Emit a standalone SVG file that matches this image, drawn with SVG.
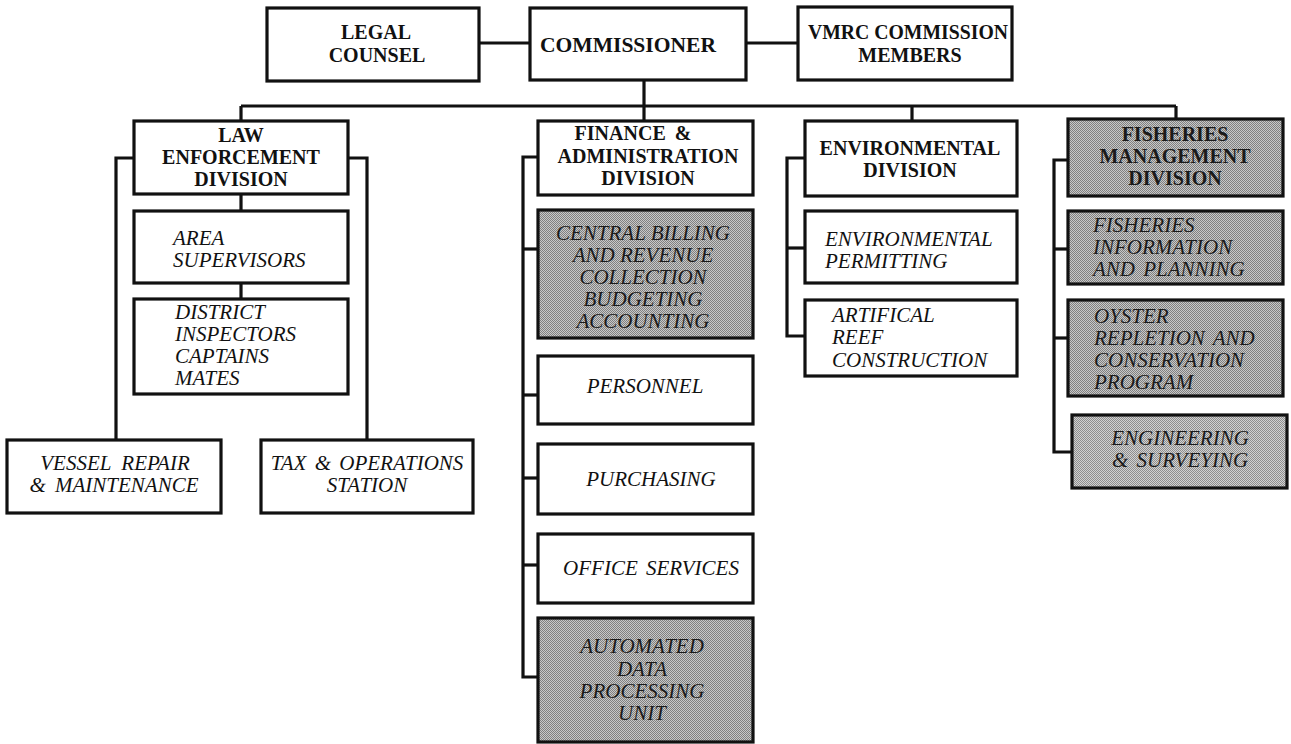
<svg xmlns="http://www.w3.org/2000/svg" width="1291" height="744" viewBox="0 0 1291 744">
  <defs>
    <!-- fine dither used for the shaded units -->
    <pattern id="dither" width="2" height="2" patternUnits="userSpaceOnUse">
      <rect width="2" height="2" fill="#c8c8c8"/>
      <rect x="0" y="0" width="1" height="1" fill="#808080"/>
      <rect x="1" y="1" width="1" height="1" fill="#808080"/>
    </pattern>
    <pattern id="ditherLight" width="2" height="2" patternUnits="userSpaceOnUse">
      <rect width="2" height="2" fill="#d2d2d2"/>
      <rect x="0" y="0" width="1" height="1" fill="#8e8e8e"/>
      <rect x="1" y="1" width="1" height="1" fill="#8e8e8e"/>
    </pattern>
  </defs>
  <style>
    .box { fill: #ffffff; stroke: #111111; stroke-width: 3.2; }
    .shade { fill: url(#dither); stroke: #111111; stroke-width: 3.2; }
    .shadeL { fill: url(#ditherLight); stroke: #111111; stroke-width: 3.2; }
    .link { fill: none; stroke: #111111; stroke-width: 3.2; stroke-linejoin: miter; }
    .head { font-family: "Liberation Serif", "Times New Roman", serif; font-weight: bold; font-size: 20px; fill: #111111; text-anchor: middle; }
    .unit { font-family: "Liberation Serif", "Times New Roman", serif; font-style: italic; font-size: 21px; fill: #111111; }
    .mid { text-anchor: middle; }
    .dark { fill: #1a1a1a; }
  </style>
  <rect width="1291" height="744" fill="#ffffff"/>

  <!-- connectors -->
  <g id="connectors">
    <line class="link" x1="479" y1="43" x2="530" y2="43"/>
    <line class="link" x1="746" y1="43" x2="798" y2="43"/>
    <line class="link" x1="644" y1="80" x2="644" y2="121"/>
    <line class="link" x1="241" y1="106" x2="1176" y2="106"/>
    <line class="link" x1="241" y1="106" x2="241" y2="121"/>
    <line class="link" x1="912" y1="106" x2="912" y2="121"/>
    <line class="link" x1="1176" y1="106" x2="1176" y2="119"/>
    <!-- law enforcement -->
    <line class="link" x1="241" y1="194" x2="241" y2="211"/>
    <line class="link" x1="241" y1="283" x2="241" y2="299"/>
    <path class="link" d="M134,158 H116 V440"/>
    <path class="link" d="M348,158 H367 V440"/>
    <!-- finance & administration -->
    <path class="link" d="M538,157 H523 V677 H538"/>
    <path class="link" d="M523,249 H538"/>
    <path class="link" d="M523,395 H538"/>
    <path class="link" d="M523,478 H538"/>
    <path class="link" d="M523,565 H538"/>
    <!-- environmental -->
    <path class="link" d="M805,158 H787 V336 H805"/>
    <path class="link" d="M787,248 H805"/>
    <!-- fisheries management -->
    <path class="link" d="M1068,160 H1054 V452 H1072"/>
    <path class="link" d="M1054,249 H1068"/>
    <path class="link" d="M1054,338 H1068"/>
  </g>

  <!-- top row -->
  <g id="legal-counsel">
    <rect class="box" x="267" y="8" width="212" height="73"/>
    <text class="head" x="376" y="39">LEGAL</text>
    <text class="head" x="377" y="62">COUNSEL</text>
  </g>
  <g id="commissioner">
    <rect class="box" x="530" y="8" width="216" height="72"/>
    <text class="head" x="628" y="52" textLength="176" lengthAdjust="spacingAndGlyphs">COMMISSIONER</text>
  </g>
  <g id="vmrc-commission-members">
    <rect class="box" x="798" y="7" width="214" height="73"/>
    <text class="head" x="908" y="39" textLength="200" lengthAdjust="spacingAndGlyphs">VMRC COMMISSION</text>
    <text class="head" x="910" y="62">MEMBERS</text>
  </g>

  <!-- law enforcement division -->
  <g id="law-enforcement">
    <rect class="box" x="134" y="121" width="214" height="73"/>
    <text class="head" x="241" y="142">LAW</text>
    <text class="head" x="241" y="164">ENFORCEMENT</text>
    <text class="head" x="241" y="186">DIVISION</text>
  </g>
  <g id="area-supervisors">
    <rect class="box" x="134" y="211" width="214" height="72"/>
    <text class="unit" x="173" y="245">AREA</text>
    <text class="unit" x="173" y="267">SUPERVISORS</text>
  </g>
  <g id="district-inspectors">
    <rect class="box" x="134" y="299" width="214" height="95"/>
    <text class="unit" x="175" y="319">DISTRICT</text>
    <text class="unit" x="175" y="341">INSPECTORS</text>
    <text class="unit" x="175" y="363">CAPTAINS</text>
    <text class="unit" x="175" y="385">MATES</text>
  </g>
  <g id="vessel-repair">
    <rect class="box" x="7" y="440" width="214" height="73"/>
    <text class="unit mid" x="115" y="470" word-spacing="5">VESSEL REPAIR</text>
    <text class="unit mid" x="114" y="492" word-spacing="4">&amp; MAINTENANCE</text>
  </g>
  <g id="tax-operations">
    <rect class="box" x="261" y="440" width="212" height="73"/>
    <text class="unit mid" x="367" y="470" word-spacing="3">TAX &amp; OPERATIONS</text>
    <text class="unit mid" x="367" y="492">STATION</text>
  </g>

  <!-- finance & administration division -->
  <g id="finance-administration">
    <rect class="box" x="538" y="121" width="215" height="74"/>
    <text class="head" x="633" y="140" word-spacing="4">FINANCE &amp;</text>
    <text class="head" x="648" y="163">ADMINISTRATION</text>
    <text class="head" x="648" y="185">DIVISION</text>
  </g>
  <g id="central-billing">
    <rect class="shade" x="538" y="210" width="215" height="128"/>
    <text class="unit mid dark" x="643" y="240">CENTRAL BILLING</text>
    <text class="unit mid dark" x="643" y="262">AND REVENUE</text>
    <text class="unit mid dark" x="643" y="284">COLLECTION</text>
    <text class="unit mid dark" x="643" y="306">BUDGETING</text>
    <text class="unit mid dark" x="643" y="328">ACCOUNTING</text>
  </g>
  <g id="personnel">
    <rect class="box" x="538" y="356" width="215" height="68"/>
    <text class="unit mid" x="645" y="393">PERSONNEL</text>
  </g>
  <g id="purchasing">
    <rect class="box" x="538" y="444" width="215" height="70"/>
    <text class="unit mid" x="651" y="486">PURCHASING</text>
  </g>
  <g id="office-services">
    <rect class="box" x="538" y="534" width="215" height="69"/>
    <text class="unit mid" x="651" y="575" word-spacing="3">OFFICE SERVICES</text>
  </g>
  <g id="automated-data-processing">
    <rect class="shade" x="538" y="618" width="215" height="124"/>
    <text class="unit mid dark" x="642" y="653">AUTOMATED</text>
    <text class="unit mid dark" x="642" y="676">DATA</text>
    <text class="unit mid dark" x="642" y="698">PROCESSING</text>
    <text class="unit mid dark" x="642" y="720">UNIT</text>
  </g>

  <!-- environmental division -->
  <g id="environmental">
    <rect class="box" x="805" y="121" width="212" height="75"/>
    <text class="head" x="910" y="155">ENVIRONMENTAL</text>
    <text class="head" x="910" y="177">DIVISION</text>
  </g>
  <g id="environmental-permitting">
    <rect class="box" x="805" y="211" width="212" height="72"/>
    <text class="unit" x="825" y="246">ENVIRONMENTAL</text>
    <text class="unit" x="825" y="268">PERMITTING</text>
  </g>
  <g id="artificial-reef">
    <rect class="box" x="805" y="300" width="212" height="76"/>
    <text class="unit" x="832" y="322">ARTIFICAL</text>
    <text class="unit" x="832" y="344">REEF</text>
    <text class="unit" x="832" y="367">CONSTRUCTION</text>
  </g>

  <!-- fisheries management division -->
  <g id="fisheries-management">
    <rect class="shade" x="1068" y="119" width="215" height="77"/>
    <text class="head dark" x="1175" y="141">FISHERIES</text>
    <text class="head dark" x="1175" y="163">MANAGEMENT</text>
    <text class="head dark" x="1175" y="185">DIVISION</text>
  </g>
  <g id="fisheries-information">
    <rect class="shade" x="1068" y="211" width="215" height="73"/>
    <text class="unit dark" x="1093" y="232">FISHERIES</text>
    <text class="unit dark" x="1093" y="254">INFORMATION</text>
    <text class="unit dark" x="1093" y="276" word-spacing="3">AND PLANNING</text>
  </g>
  <g id="oyster-repletion">
    <rect class="shade" x="1068" y="300" width="215" height="96"/>
    <text class="unit dark" x="1094" y="323">OYSTER</text>
    <text class="unit dark" x="1094" y="345" word-spacing="3">REPLETION AND</text>
    <text class="unit dark" x="1094" y="367">CONSERVATION</text>
    <text class="unit dark" x="1094" y="389">PROGRAM</text>
  </g>
  <g id="engineering-surveying">
    <rect class="shadeL" x="1072" y="415" width="215" height="73"/>
    <text class="unit mid dark" x="1180" y="445">ENGINEERING</text>
    <text class="unit mid dark" x="1180" y="467" word-spacing="3">&amp; SURVEYING</text>
  </g>
</svg>
